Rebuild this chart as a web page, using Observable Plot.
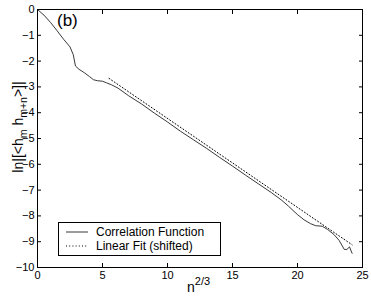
<!DOCTYPE html>
<html><head><meta charset="utf-8">
<script src="https://cdn.jsdelivr.net/npm/d3@7"></script>
<script src="https://cdn.jsdelivr.net/npm/@observablehq/plot@0.6"></script>
<style>body{margin:0;background:#fff;font-family:"Liberation Sans",Arial,sans-serif}</style>
</head><body><div id="chart"></div>
<script>
const corrX = [0, 0.5, 1.0, 1.5, 2.0, 2.5, 2.75, 2.92, 3.2, 3.6, 4.0, 4.3, 4.6, 5.0, 5.3, 5.7, 6.2, 7, 8, 9, 10, 11, 12, 13, 14, 15, 16, 17, 18, 18.8, 19.3, 20.0, 20.5, 21.0, 21.4, 21.9, 22.3, 22.8, 23.2, 23.6, 23.8, 24.0, 24.2];
const corrY = [0, -0.22, -0.5, -0.82, -1.15, -1.45, -1.75, -2.19, -2.32, -2.45, -2.6, -2.72, -2.76, -2.78, -2.84, -2.92, -3.05, -3.34, -3.66, -4.02, -4.36, -4.72, -5.05, -5.38, -5.73, -6.07, -6.42, -6.76, -7.1, -7.4, -7.62, -7.95, -8.15, -8.3, -8.38, -8.4, -8.52, -8.72, -8.95, -9.3, -9.3, -9.2, -9.45];
const fitX = [5.5, 24.2];
const fitY = [-2.67, -9.12];
const xTicks = [0, 5, 10, 15, 20, 25];
const yTicks = [0, -1, -2, -3, -4, -5, -6, -7, -8, -9, -10];
const legendLabels = ["Correlation Function", "Linear Fit (shifted)"];

const corr = corrX.map((x, i) => ({x, y: corrY[i]}));
const fit = fitX.map((x, i) => ({x, y: fitY[i]}));

const W = 371, H = 297, mL = 37, mR = 9, mT = 9, mB = 30;
const plot = Plot.plot({
  width: W, height: H,
  marginLeft: mL, marginRight: mR, marginTop: mT, marginBottom: mB,
  style: {fontFamily: '"Liberation Sans", Arial, sans-serif', fontSize: "11px", color: "#000", background: "#fff"},
  x: {domain: [0, 25]},
  y: {domain: [-10, 0]},
  marks: [
    Plot.axisX(xTicks, {anchor: "bottom", tickSize: 0, tickPadding: 4, label: null, fontSize: 11}),
    Plot.axisX(xTicks, {anchor: "bottom", tickSize: -4, tickFormat: () => "", label: null}),
    Plot.axisX(xTicks, {anchor: "top", tickSize: -4, tickFormat: () => "", label: null}),
    Plot.axisY(yTicks, {anchor: "left", tickSize: 0, tickPadding: 3, label: null, fontSize: 11}),
    Plot.axisY(yTicks, {anchor: "left", tickSize: -4, tickFormat: () => "", label: null}),
    Plot.axisY(yTicks, {anchor: "right", tickSize: -4, tickFormat: () => "", label: null}),
    Plot.line(fit, {x: "x", y: "y", stroke: "#000", strokeWidth: 1, strokeDasharray: "1,2.2"}),
    Plot.line(corr, {x: "x", y: "y", stroke: "#222", strokeWidth: 0.9}),
    Plot.frame({stroke: "#000", strokeWidth: 1})
  ]
});
document.getElementById("chart").appendChild(plot);

const svg = d3.select(plot);
const F = '"Liberation Sans", Arial, sans-serif';
// panel label
svg.append("text").attr("x", 57).attr("y", 26).attr("text-anchor", "start").attr("font-family", F).attr("font-size", 17).attr("fill", "#000").text("(b)");
// x label
const xl = svg.append("text").attr("x", 187).attr("y", 292).attr("text-anchor", "start").attr("font-family", F).attr("font-size", 14).attr("fill", "#000");
xl.append("tspan").text("n");
xl.append("tspan").attr("dy", -7).attr("font-size", 11).text("2/3");
// y label
const yl = svg.append("text").attr("transform", "translate(23,127) rotate(-90)").attr("text-anchor", "middle").attr("font-family", F).attr("font-size", 14).attr("fill", "#000");
yl.append("tspan").text("ln|[<h");
yl.append("tspan").attr("dy", 4).attr("font-size", 10.5).text("m");
yl.append("tspan").attr("dy", -4).text(" h");
yl.append("tspan").attr("dy", 4).attr("font-size", 10.5).text("m+n");
yl.append("tspan").attr("dy", -4).text(">]|");
// legend
const lg = svg.append("g");
lg.append("rect").attr("x", 58.5).attr("y", 222.5).attr("width", 162).attr("height", 33).attr("fill", "#fff").attr("stroke", "#000").attr("stroke-width", 1);
lg.append("line").attr("x1", 66).attr("x2", 88).attr("y1", 232).attr("y2", 232).attr("stroke", "#222").attr("stroke-width", 0.9);
lg.append("line").attr("x1", 66).attr("x2", 88).attr("y1", 246).attr("y2", 246).attr("stroke", "#000").attr("stroke-width", 1).attr("stroke-dasharray", "1,2.2");
lg.append("text").attr("x", 96).attr("y", 236).attr("text-anchor", "start").attr("font-family", F).attr("font-size", 12).attr("fill", "#000").text(legendLabels[0]);
lg.append("text").attr("x", 96).attr("y", 250).attr("text-anchor", "start").attr("font-family", F).attr("font-size", 12).attr("fill", "#000").text(legendLabels[1]);
</script></body></html>
